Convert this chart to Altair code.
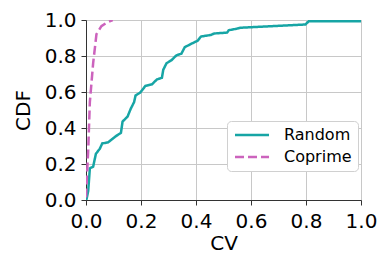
import altair as alt
import pandas as pd

random_cv = [0.0, 0.002, 0.008, 0.014, 0.026, 0.036, 0.05, 0.059, 0.08, 0.109, 0.127, 0.133,
             0.151, 0.163, 0.175, 0.18, 0.198, 0.216, 0.24, 0.258, 0.276, 0.281, 0.293,
             0.311, 0.329, 0.347, 0.359, 0.382, 0.406, 0.418, 0.454, 0.466, 0.513, 0.519,
             0.549, 0.561, 0.798, 0.81, 1.0]
random_cdf = [0.0, 0.005, 0.05, 0.176, 0.185, 0.257, 0.284, 0.314, 0.32, 0.355, 0.373, 0.436,
              0.463, 0.508, 0.544, 0.58, 0.598, 0.634, 0.643, 0.67, 0.679, 0.724, 0.76,
              0.777, 0.804, 0.813, 0.849, 0.867, 0.885, 0.908, 0.917, 0.925, 0.93, 0.943,
              0.952, 0.957, 0.975, 0.993, 0.993]

coprime_cv = [0.0, 0.005, 0.008, 0.014, 0.026, 0.038, 0.056, 0.074, 0.097]
coprime_cdf = [0.014, 0.185, 0.275, 0.544, 0.76, 0.921, 0.966, 0.984, 1.0]

ticks = [0, 0.2, 0.4, 0.6, 0.8, 1.0]

rows = []
for i, (x, y) in enumerate(zip(random_cv, random_cdf)):
    rows.append({"series": "Random", "cv": x, "cdf": y, "order": i})
for i, (x, y) in enumerate(zip(coprime_cv, coprime_cdf)):
    rows.append({"series": "Coprime", "cv": x, "cdf": y, "order": i})
df = pd.DataFrame(rows)

font = "DejaVu Sans"

chart = alt.Chart(df).mark_line(strokeWidth=2.5, clip=True).encode(
    x=alt.X("cv:Q", title="CV", scale=alt.Scale(domain=[0, 1], nice=False),
            axis=alt.Axis(values=ticks, format=".1f", labelPadding=6, titlePadding=2)),
    y=alt.Y("cdf:Q", title="CDF", scale=alt.Scale(domain=[0, 1], nice=False),
            axis=alt.Axis(values=ticks, format=".1f", labelPadding=5, titlePadding=11)),
    color=alt.Color("series:N", title=None,
                    scale=alt.Scale(domain=["Random", "Coprime"], range=["#17a5a5", "#cc63bd"]),
                    legend=alt.Legend(orient="none", legendX=141, legendY=101)),
    strokeDash=alt.StrokeDash("series:N", title=None,
                              scale=alt.Scale(domain=["Random", "Coprime"], range=[[1, 0], [9, 4]])),
    order="order:Q",
).properties(
    width=275, height=180,
    autosize=alt.AutoSizeParams(type="none"),
    padding={"left": 78, "top": 12, "right": 16, "bottom": 53},
).configure_axis(
    labelFont=font, titleFont=font, labelFontSize=20, titleFontSize=20,
    labelColor="#000", titleColor="#000", titleFontWeight="normal",
    grid=True, gridColor="#c8c8c8", gridWidth=1,
    domainColor="#333", tickColor="#333", tickSize=5,
    labelFlush=False,
).configure_view(
    stroke="#c8c8c8"
).configure_legend(
    labelFont=font, labelFontSize=16, labelColor="#000",
    symbolType="M-1,0H4.67", symbolSize=144, symbolStrokeWidth=2.5,
    strokeColor="#d0d0d0", fillColor="white",
    cornerRadius=4, padding=6, rowPadding=6, labelOffset=35,
)

chart.save("out.html", embed_options={"renderer": "svg", "actions": False})
